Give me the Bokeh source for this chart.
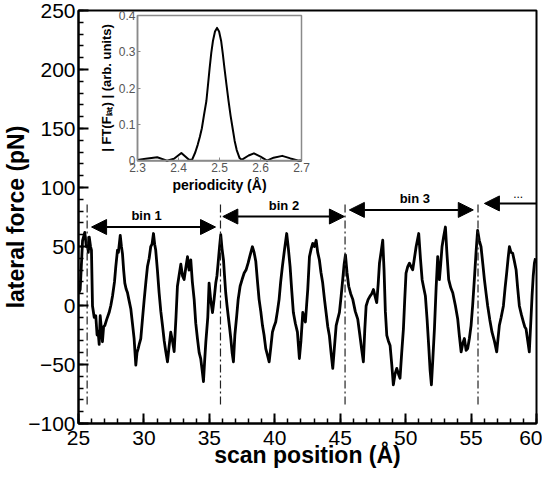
from bokeh.plotting import figure
from bokeh.models import (Range1d, LinearAxis, SingleIntervalTicker, FixedTicker,
                          Arrow, NormalHead, ColumnDataSource)
from bokeh.core.properties import value
from bokeh.embed import file_html
from bokeh.resources import INLINE

# ---------------- data ----------------
scan_x = [25.0, 25.13, 25.31, 25.48, 25.6, 25.69, 25.75, 25.82, 25.92, 25.99, 26.07, 26.2, 26.32, 26.42,
          26.5, 26.58, 26.66, 26.75, 26.83, 26.92, 27.01, 27.15, 27.34, 27.47, 27.6, 27.75, 27.85, 27.98,
          28.05, 28.19, 28.28, 28.36, 28.45, 28.54, 28.64, 28.74, 28.85, 29.0, 29.12, 29.25, 29.38, 29.47,
          29.56, 29.66, 29.76, 29.9, 30.02, 30.15, 30.27, 30.4, 30.52, 30.62, 30.73, 30.82, 30.9, 31.03,
          31.16, 31.29, 31.42, 31.55, 31.67, 31.8, 31.92, 32.05, 32.18, 32.31, 32.45, 32.56, 32.68, 32.82,
          32.95, 33.07, 33.2, 33.33, 33.45, 33.58, 33.7, 33.84, 33.96, 34.09, 34.22, 34.34, 34.45, 34.55,
          34.65, 34.73, 34.88, 34.98, 35.1, 35.24, 35.36, 35.49, 35.58, 35.67, 35.78, 35.87, 35.97, 36.08,
          36.16, 36.25, 36.35, 36.44, 36.54, 36.64, 36.74, 36.84, 36.95, 37.09, 37.2, 37.35, 37.5, 37.66,
          37.8, 37.96, 38.1, 38.29, 38.42, 38.55, 38.68, 38.8, 38.93, 39.06, 39.18, 39.31, 39.44, 39.57,
          39.7, 39.82, 39.94, 40.07, 40.2, 40.33, 40.45, 40.58, 40.75, 40.91, 41.04, 41.17, 41.3, 41.42,
          41.57, 41.73, 41.88, 42.0, 42.14, 42.24, 42.34, 42.43, 42.52, 42.65, 42.78, 42.9, 43.03, 43.16,
          43.28, 43.41, 43.53, 43.66, 43.8, 43.92, 44.05, 44.17, 44.3, 44.43, 44.56, 44.69, 44.8, 44.94,
          45.07, 45.19, 45.3, 45.4, 45.52, 45.65, 45.8, 45.96, 46.15, 46.34, 46.5, 46.65, 46.77, 46.88,
          46.98, 47.13, 47.28, 47.41, 47.54, 47.66, 47.79, 47.9, 48.0, 48.12, 48.25, 48.35, 48.45, 48.56,
          48.68, 48.81, 48.94, 49.06, 49.19, 49.32, 49.45, 49.57, 49.7, 49.83, 49.93, 50.03, 50.16, 50.29,
          50.41, 50.54, 50.67, 50.8, 51.0, 51.13, 51.26, 51.38, 51.51, 51.64, 51.76, 51.87, 51.97, 52.08,
          52.2, 52.33, 52.45, 52.58, 52.68, 52.78, 52.9, 53.04, 53.15, 53.29, 53.45, 53.6, 53.8, 53.98,
          54.1, 54.24, 54.37, 54.49, 54.62, 54.74, 54.87, 55.0, 55.12, 55.25, 55.38, 55.5, 55.63, 55.76,
          55.9, 56.02, 56.15, 56.27, 56.43, 56.6, 56.78, 56.96, 57.06, 57.16, 57.3, 57.47, 57.6, 57.72,
          57.83, 57.93, 58.05, 58.18, 58.3, 58.44, 58.56, 58.69, 58.85, 59.0, 59.1, 59.2, 59.33, 59.45,
          59.56, 59.66, 59.75, 59.84, 59.92]
lateral_force = [10, 13.6, 55, 62, 50, 52.8, 45, 58, 50, 47, -0.4, -10, -8.7, -25,
                 -22, -33, -8.7, -20, -30.7, -18, -17, -12, -6, 0, 8, 20, 33, 47,
                 45, 59.5, 50, 44, 30, 19, 14, 11, 5, -3, -15, -28, -50.5, -40,
                 -36.5, -32, -28, -10, 5, 20, 33, 40, 49.8, 52, 61, 52, 47, 30,
                 10.8, -5, -17, -30, -39, -47.7, -35, -22.6, -30, -39, -10, 16.3, 25, 35,
                 25, 22, 32, 41.4, 30, 38.6, 20, 5, -15, -28, -40, -45, -55, -64.4,
                 -45, -31, -10, 19, 5, -6, 5, 19, 25, 36, 50, 60, 48, 38.6,
                 25, 10.8, 0, -8.7, -18, -28, -40, -47.7, -25, -8.7, 5, 16.3, 22, 27.5,
                 30, 35.9, 42, 49.8, 45, 37.2, 20, 5.2, -5, -17, -25, -36.5, -42, -47.7,
                 -35, -22.6, -18, -14, -5, 5.2, 20, 33, 48, 61, 48, 33, 12, -6,
                 -15, -22.6, -44.9, -30, -5.9, -10, -14, 0, 13.6, 41.4, 48, 52.6, 50, 55.3,
                 45, 38.6, 28, 19.2, 5, -5.9, -18, -25.4, -40, -53.3, -35, -17, -12, -5.9,
                 8, 21.9, 35, 42.8, 28, 16.3, 10, 5.2, -5, -11.5, -25, -38, -47.7, -20,
                 -0.4, 5, 8, 10, 13.6, 8, 2.5, 18, 35.9, 45, 55.3, 30, -5, -25.4,
                 -30, -33.8, -50, -67.2, -58, -53.3, -58, -61.6, -40, -19.8, 5, 27.5, 33, 35.9,
                 33, 30.3, 40, 49.8, 61, 40, 21.9, 15, 8, -12, -33.8, -55, -67.2, -45,
                 -19.8, 15, 41.4, 21.9, 35, 49.8, 58, 66.5, 45, 21.9, 15, 10.8, 0, -11.5,
                 -25, -39.3, -32, -28, -38, -36.5, -28, -17, 0, 21.9, 45, 63.7, 55, 49.8,
                 35, 21.9, 10, -0.4, -12, -22.6, -30, -39.3, -28, -17, -10, -0.4, 15, 27.5,
                 40, 49.8, 45, 44.2, 38, 30.3, 15, -0.4, -8, -14, -18, -19.8, -30, -39.3,
                 -15, 8, 25, 35.9, 40]

x_ticks_interval = 5
y_ticks_interval = 50

bin_bounds = [25.66, 35.85, 45.37, 55.53]
bin_bound_top = 88
bin_bound_bottom = -84
bin_start = [26.0, 36.03, 45.7]
bin_end = [35.47, 45.32, 55.17]
bin_level = [66.5, 75.4, 81.0]
bin_label_x = [30.2, 40.7, 50.7]
bin_labels = ["bin 1", "bin 2", "bin 3"]
next_bin_start = [56.02]
next_bin_level = [86.5]
next_label_x = [58.6]
next_label = ["..."]

# inset: Fourier transform amplitude vs periodicity
period = [2.3, 2.32, 2.348, 2.372, 2.389, 2.407, 2.425, 2.433, 2.441, 2.447, 2.452, 2.457, 2.462,
          2.468, 2.472, 2.476, 2.48, 2.484, 2.489, 2.494, 2.499, 2.504, 2.508, 2.512, 2.517, 2.522,
          2.527, 2.532, 2.537, 2.542, 2.549, 2.554, 2.571, 2.584, 2.6, 2.616, 2.632, 2.653, 2.673,
          2.693, 2.7]
ft_amplitude = [0.003, 0.006, 0.010, 0.001, 0.006, 0.022, 0.004, 0.003, 0.024, 0.045, 0.066, 0.09, 0.125,
                0.165, 0.21, 0.256, 0.298, 0.33, 0.356, 0.366, 0.356, 0.33, 0.295, 0.256, 0.21, 0.165,
                0.125, 0.09, 0.055, 0.03, 0.008, 0.003, 0.015, 0.021, 0.012, 0.001, 0.009, 0.014, 0.007,
                0.001, 0.001]
inset_x_ticks = [2.3, 2.4, 2.5, 2.6, 2.7]
inset_y_ticks = [0.0, 0.1, 0.2, 0.3, 0.4]
inset_y_tick_labels = ["0", "0.1", "0.2", "0.3", "0.4"]

# ---------------- layout constants (screen px) ----------------
W, H = 542, 470
FRAME_L, FRAME_R, FRAME_T, FRAME_B = 79, 537, 18, 427
INSET_L, INSET_R, INSET_T, INSET_B = 138, 302, 23, 167

FONT = "Liberation Sans"

p = figure(width=W, height=H, x_range=Range1d(25, 60), y_range=Range1d(-100, 250),
           output_backend="svg", toolbar_location=None,
           min_border_left=FRAME_L - 8, min_border_right=6,
           min_border_top=FRAME_T - 8, min_border_bottom=0)
p.grid.visible = False
p.outline_line_color = "black"
p.outline_line_width = 2
p.background_fill_color = "white"
p.border_fill_color = "white"

xa = p.xaxis[0]
ya = p.yaxis[0]
xa.ticker = SingleIntervalTicker(interval=x_ticks_interval, num_minor_ticks=5)
ya.ticker = SingleIntervalTicker(interval=y_ticks_interval, num_minor_ticks=5)
xa.axis_label = "scan position (Å)"
ya.axis_label = "lateral force (pN)"
for ax in (xa, ya):
    ax.axis_line_width = 2
    ax.axis_line_color = "black"
    ax.major_tick_in = 10
    ax.major_tick_out = 0
    ax.minor_tick_in = 5
    ax.minor_tick_out = 0
    ax.major_tick_line_width = 2
    ax.minor_tick_line_width = 1.5
    ax.major_label_text_font = FONT
    ax.major_label_text_font_size = "21px"
    ax.major_label_text_color = "black"
    ax.axis_label_text_font = FONT
    ax.axis_label_text_font_size = "23px"
    ax.axis_label_text_font_style = "bold"
    ax.axis_label_text_color = "black"
xa.major_label_standoff = 7
xa.axis_label_standoff = -6
ya.major_label_standoff = 3
ya.axis_label_standoff = -4

# trace
p.line(scan_x, lateral_force, line_color="black", line_width=2.8, line_join="round")

# bin boundaries
p.segment(x0=bin_bounds, y0=[bin_bound_bottom] * len(bin_bounds),
          x1=bin_bounds, y1=[bin_bound_top] * len(bin_bounds),
          line_color="#222222", line_width=1.2, line_dash="8 3 2 3")

# bin arrows
head = dict(size=15, fill_color="black", line_color="black")
bins_src = ColumnDataSource(dict(x0=bin_start, x1=bin_end, y=bin_level))
p.add_layout(Arrow(start=NormalHead(**head), end=NormalHead(**head),
                   x_start="x0", y_start="y", x_end="x1", y_end="y",
                   source=bins_src, line_width=2, line_color="black"))
next_src = ColumnDataSource(dict(x0=[p.x_range.end], x1=next_bin_start, y=next_bin_level))
p.add_layout(Arrow(start=None, end=NormalHead(**head),
                   x_start="x0", y_start="y", x_end="x1", y_end="y",
                   source=next_src, line_width=2, line_color="black"))
p.text(x=bin_label_x, y=bin_level, text=bin_labels, y_offset=-4,
       text_align="center", text_baseline="bottom", text_font=value(FONT),
       text_font_style="bold", text_font_size="13px", text_color="black")
p.text(x=next_label_x, y=next_bin_level, text=next_label, y_offset=-5,
       text_align="center", text_baseline="bottom", text_font=value(FONT),
       text_font_size="12px", text_color="black")

# ---------------- inset ----------------
ix_per_px = (inset_x_ticks[-1] - inset_x_ticks[0]) / (INSET_R - INSET_L)
iy_per_px = (inset_y_ticks[-1] - inset_y_ticks[0]) / (INSET_B - INSET_T)
p.extra_x_ranges = {"ix": Range1d(inset_x_ticks[0] - (INSET_L - FRAME_L) * ix_per_px,
                                  inset_x_ticks[-1] + (FRAME_R - INSET_R) * ix_per_px)}
p.extra_y_ranges = {"iy": Range1d(inset_y_ticks[0] - (FRAME_B - INSET_B) * iy_per_px,
                                  inset_y_ticks[-1] + (INSET_T - FRAME_T) * iy_per_px)}

p.quad(left=inset_x_ticks[0], right=inset_x_ticks[-1], bottom=inset_y_ticks[0], top=inset_y_ticks[-1],
       x_range_name="ix", y_range_name="iy", fill_color="white",
       line_color="#8a8a8a", line_width=1.5)
p.line(period, ft_amplitude, x_range_name="ix", y_range_name="iy",
       line_color="black", line_width=2, line_join="round")

ix_axis = LinearAxis(x_range_name="ix", y_range_name="iy", fixed_location=inset_y_ticks[0],
                     bounds=(inset_x_ticks[0], inset_x_ticks[-1]),
                     ticker=FixedTicker(ticks=inset_x_ticks, minor_ticks=[]),
                     axis_label="periodicity (Å)")
iy_axis = LinearAxis(x_range_name="ix", y_range_name="iy", fixed_location=inset_x_ticks[0],
                     bounds=(inset_y_ticks[0], inset_y_ticks[-1]),
                     ticker=FixedTicker(ticks=inset_y_ticks, minor_ticks=[]),
                     major_label_overrides=dict(zip(inset_y_ticks, inset_y_tick_labels)),
                     axis_label="| FT(Fₗₐₜ) | (arb. units)")
for ax in (ix_axis, iy_axis):
    ax.axis_line_color = "#8a8a8a"
    ax.axis_line_width = 1.5
    ax.major_tick_in = 3
    ax.major_tick_out = 0
    ax.major_tick_line_color = "#8a8a8a"
    ax.minor_tick_line_color = None
    ax.major_label_text_font = FONT
    ax.major_label_text_font_size = "12px"
    ax.major_label_text_color = "#555555"
    ax.major_label_standoff = 2
    ax.axis_label_text_font = FONT
    ax.axis_label_text_font_style = "bold"
    ax.axis_label_text_color = "black"
    ax.axis_label_standoff = 2
ix_axis.axis_label_text_font_size = "14px"
iy_axis.axis_label_text_font_size = "13px"
p.add_layout(ix_axis, "below")
p.add_layout(iy_axis, "left")

open("out.html", "w").write(file_html(p, INLINE))
